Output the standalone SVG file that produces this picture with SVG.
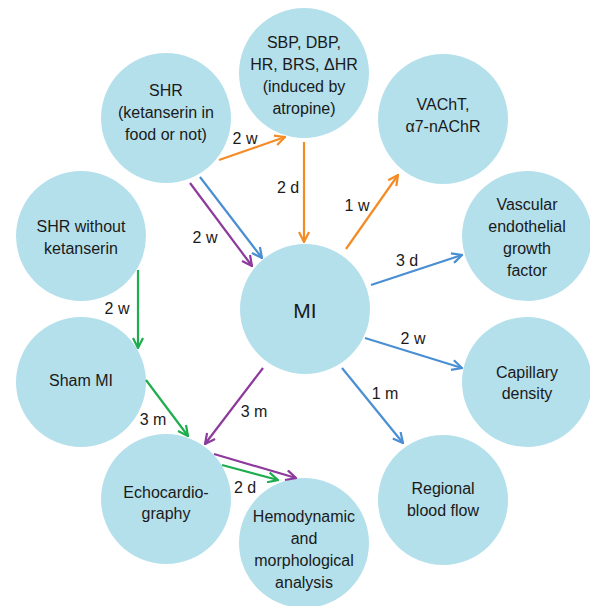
<svg xmlns="http://www.w3.org/2000/svg" width="590" height="606" viewBox="0 0 590 606">
<defs>
<style>
.n{fill:#b4e0ec}
text{font-family:"Liberation Sans",Arial,sans-serif;font-size:16px;fill:#1a1a1a;text-anchor:middle}
.c{fill:none;stroke-width:2.2}
.o{stroke:#f48c26}.b{stroke:#4a8fd3}.p{stroke:#8c3a9c}.g{stroke:#1ead4e}
</style>
<marker id="ao" viewBox="0 0 12 12" refX="11" refY="6" markerWidth="12" markerHeight="12" markerUnits="userSpaceOnUse" orient="auto"><path d="M1,1 L11,6 L1,11" fill="none" stroke="#f48c26" stroke-width="2.2"/></marker>
<marker id="ab" viewBox="0 0 12 12" refX="11" refY="6" markerWidth="12" markerHeight="12" markerUnits="userSpaceOnUse" orient="auto"><path d="M1,1 L11,6 L1,11" fill="none" stroke="#4a8fd3" stroke-width="2.2"/></marker>
<marker id="ap" viewBox="0 0 12 12" refX="11" refY="6" markerWidth="12" markerHeight="12" markerUnits="userSpaceOnUse" orient="auto"><path d="M1,1 L11,6 L1,11" fill="none" stroke="#8c3a9c" stroke-width="2.2"/></marker>
<marker id="ag" viewBox="0 0 12 12" refX="11" refY="6" markerWidth="12" markerHeight="12" markerUnits="userSpaceOnUse" orient="auto"><path d="M1,1 L11,6 L1,11" fill="none" stroke="#1ead4e" stroke-width="2.2"/></marker>
</defs>
<rect width="590" height="606" fill="#ffffff"/>
<g id="sbp"><circle class="n" cx="304" cy="73" r="65"/><text x="304" y="48">SBP, DBP,</text><text x="304" y="70">HR, BRS, ΔHR</text><text x="304" y="92">(induced by</text><text x="304" y="114">atropine)</text></g>
<g id="shr"><circle class="n" cx="166" cy="118" r="65"/><text x="166" y="96">SHR</text><text x="166" y="118">(ketanserin in</text><text x="166" y="140">food or not)</text></g>
<g id="vacht"><circle class="n" cx="443" cy="119" r="65"/><text x="443" y="110">VAChT,</text><text x="443" y="132">α7-nAChR</text></g>
<g id="vegf"><circle class="n" cx="527" cy="236" r="65"/><text x="527" y="210">Vascular</text><text x="527" y="232">endothelial</text><text x="527" y="254">growth</text><text x="527" y="276">factor</text></g>
<g id="cap"><circle class="n" cx="527" cy="382" r="65"/><text x="527" y="378">Capillary</text><text x="527" y="399">density</text></g>
<g id="rbf"><circle class="n" cx="443" cy="500" r="65"/><text x="443" y="494">Regional</text><text x="443" y="516">blood flow</text></g>
<g id="mi"><circle class="n" cx="305" cy="309" r="65"/><text x="305" y="318" style="font-size:21px">MI</text></g>
<g id="shrw"><circle class="n" cx="81" cy="236" r="65"/><text x="81" y="232">SHR without</text><text x="81" y="254">ketanserin</text></g>
<g id="sham"><circle class="n" cx="81" cy="382" r="65"/><text x="81" y="386">Sham MI</text></g>
<g id="echo"><circle class="n" cx="166" cy="499" r="65"/><text x="166" y="498">Echocardio-</text><text x="166" y="519">graphy</text></g>
<g id="hemo"><circle class="n" cx="304" cy="543" r="65"/><text x="304" y="522">Hemodynamic</text><text x="304" y="544">and</text><text x="304" y="566">morphological</text><text x="304" y="588">analysis</text></g>
<g id="connectors">
<line class="c o" x1="219" y1="160" x2="285" y2="137" marker-end="url(#ao)"/>
<line class="c o" x1="304" y1="142" x2="304" y2="242" marker-end="url(#ao)"/>
<line class="c o" x1="346" y1="249" x2="398" y2="175" marker-end="url(#ao)"/>
<line class="c b" x1="200" y1="177" x2="262" y2="258" marker-end="url(#ab)"/>
<line class="c b" x1="371" y1="285" x2="462" y2="255" marker-end="url(#ab)"/>
<line class="c b" x1="365" y1="338" x2="462" y2="368" marker-end="url(#ab)"/>
<line class="c b" x1="342" y1="368" x2="403" y2="443" marker-end="url(#ab)"/>
<line class="c p" x1="190" y1="183" x2="252" y2="266" marker-end="url(#ap)"/>
<line class="c p" x1="263" y1="368" x2="205" y2="444" marker-end="url(#ap)"/>
<line class="c p" x1="214" y1="454" x2="296" y2="478" marker-end="url(#ap)"/>
<line class="c g" x1="138" y1="270" x2="138" y2="348" marker-end="url(#ag)"/>
<line class="c g" x1="146" y1="380" x2="188" y2="436" marker-end="url(#ag)"/>
<line class="c g" x1="222" y1="465" x2="278" y2="480" marker-end="url(#ag)"/>
<text x="245" y="144">2 w</text>
<text x="288" y="193">2 d</text>
<text x="357" y="211">1 w</text>
<text x="205" y="243">2 w</text>
<text x="407" y="266">3 d</text>
<text x="413" y="344">2 w</text>
<text x="385" y="399">1 m</text>
<text x="117" y="314">2 w</text>
<text x="153" y="425">3 m</text>
<text x="254" y="417">3 m</text>
<text x="245" y="493">2 d</text>
</g>
</svg>
